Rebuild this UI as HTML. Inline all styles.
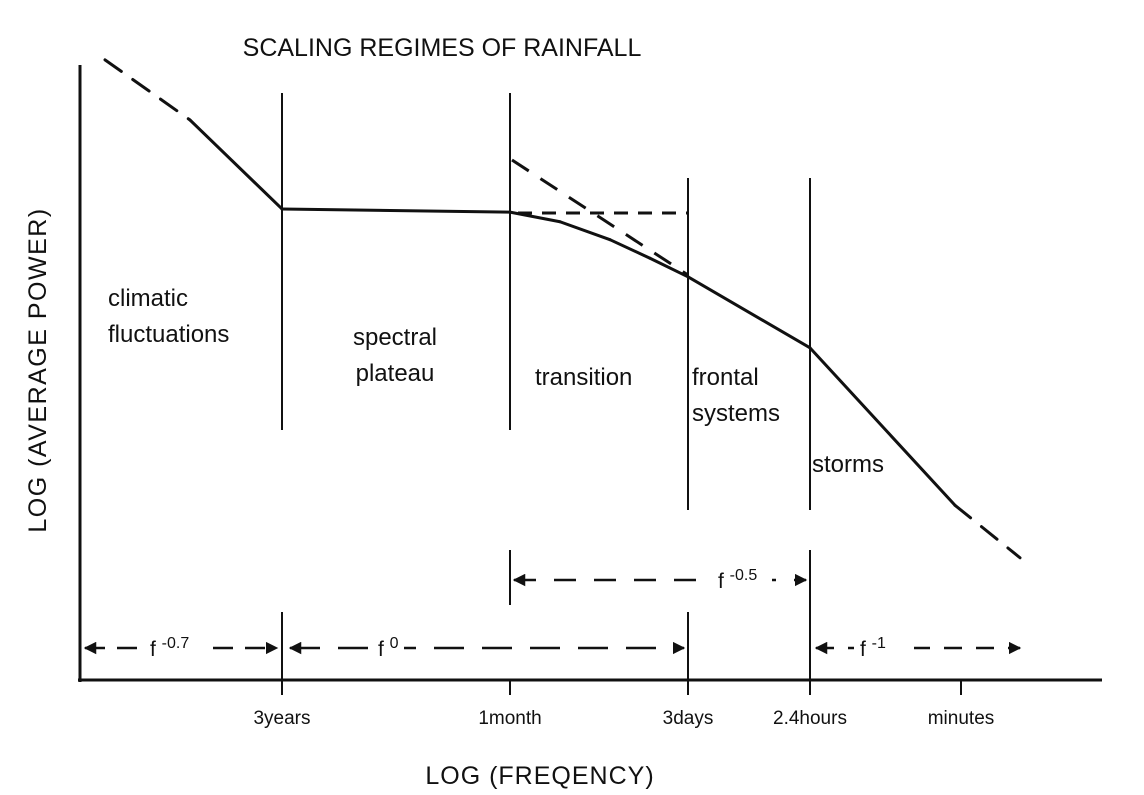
<!DOCTYPE html>
<html><head><meta charset="utf-8"><style>
html,body{margin:0;padding:0;background:#fff;}
svg{display:block;font-family:"Liberation Sans",Arial,sans-serif;}
text{fill:#111;}
</style></head><body>
<svg id="chart" width="1144" height="795" viewBox="0 0 1144 795" xmlns="http://www.w3.org/2000/svg">
<defs>
<marker id="ah" viewBox="0 0 10 10" refX="9" refY="5" markerWidth="5" markerHeight="5" orient="auto-start-reverse"><path d="M0,0 L10,5 L0,10 z" fill="#111"/></marker>
</defs>
<text x="442" y="56" font-size="25" text-anchor="middle">SCALING REGIMES OF RAINFALL</text>
<line x1="80" y1="65" x2="80" y2="682" stroke="#111" stroke-width="3"/>
<line x1="78" y1="680" x2="1102" y2="680" stroke="#111" stroke-width="3"/>
<text transform="translate(46,370) rotate(-90)" font-size="25" text-anchor="middle" letter-spacing="1.5">LOG (AVERAGE POWER)</text>
<text x="540" y="784" font-size="25" text-anchor="middle" letter-spacing="1">LOG (FREQENCY)</text>
<g id="dividers"></g>
<g id="ticks"></g>
<g id="curve"></g>
<g id="regions" font-size="24"></g>
<g id="slopes"></g>
</svg>
<script>
// Data: break frequencies (log-frequency units) and log power at curve points
const breakLabels = ["3years","1month","3days","2.4hours","minutes"];
const breakFreqs = [2.02, 4.30, 6.08, 7.30, 8.81];
const curveFreqs = [0.25, 1.10, 2.02, 4.30, 4.80, 5.30, 5.70, 6.08, 7.30, 8.75, 9.40];
const curvePower = [9.69, 8.75, 7.36, 7.31, 7.16, 6.88, 6.59, 6.30, 5.19, 2.73, 1.91];
const curveDashed = [true, false, false, false, false, false, false, false, false, true];
const regionNames = [["climatic","fluctuations"],["spectral","plateau"],["transition"],["frontal","systems"],["storms"]];
const slopeLabels = ["-0.7","0","-0.5","-1"];

const NS = "http://www.w3.org/2000/svg";
const xScale = f => 80 + f * 100;       // log freq -> px
const yScale = p => 680 - p * 64.0;     // log power -> px
function mk(tag, attrs, parent){const e=document.createElementNS(NS,tag);for(const k in attrs)e.setAttribute(k,attrs[k]);parent.appendChild(e);return e;}
const gDiv=document.getElementById('dividers'), gT=document.getElementById('ticks'), gC=document.getElementById('curve'), gR=document.getElementById('regions'), gS=document.getElementById('slopes');

// ticks & labels
breakFreqs.forEach((f,i)=>{
  const x=xScale(f);
  const t=mk('line',{x1:x,y1:680,x2:x,y2:695,stroke:'#111','stroke-width':2},gT);
  
  
  const l=mk('text',{x:x,y:724,'font-size':19,'text-anchor':'middle'},gT);
  l.textContent=breakLabels[i];
  
  
});

// region divider lines
const divSegs=[[0,93,430],[0,612,680],[1,93,430],[1,550,605],[2,178,510],[2,612,680],[3,178,510],[3,550,680]];
divSegs.forEach(s=>{
  const x=xScale(breakFreqs[s[0]]);
  const l=mk('line',{x1:x,y1:s[1],x2:x,y2:s[2],stroke:'#111','stroke-width':2},gDiv);
  
  
});

// spectrum curve
for(let i=0;i<curveFreqs.length-1;i++){
  const l=mk('line',{x1:xScale(curveFreqs[i]),y1:yScale(curvePower[i]),x2:xScale(curveFreqs[i+1]),y2:yScale(curvePower[i+1]),stroke:'#111','stroke-width':3,'stroke-linecap':'round'},gC);
  if(curveDashed[i]) l.setAttribute('stroke-dasharray','20 14');
  
  
}
// transition asymptotes
const a1=mk('line',{x1:xScale(4.32),y1:160,x2:xScale(6.08),y2:275,stroke:'#111','stroke-width':3,'stroke-dasharray':'20 14'},gC);


const a2=mk('line',{x1:xScale(4.30)+8,y1:213,x2:xScale(6.08),y2:213,stroke:'#111','stroke-width':3,'stroke-dasharray':'14 10'},gC);



// region labels
const regionPos=[[108,306,'start'],[395,345,'middle'],[535,385,'start'],[692,385,'start'],[812,472,'start']];
regionNames.forEach((lines,i)=>{
  const p=regionPos[i];
  const t=mk('text',{x:p[0],y:p[1],'text-anchor':p[2]},gR);
  
  
  lines.forEach((s,j)=>{const ts=mk('tspan',{x:p[0],dy:j?36:0},t);ts.textContent=s;});
});

// slope arrows
const arrowRows=[[83,279,648,150,'20 12'],[288,686,648,378,'30 18'],[512,808,580,718,'22 18'],[814,1022,648,860,'18 14']];
arrowRows.forEach((r,i)=>{
  const l=mk('line',{x1:r[0]+2,y1:r[2],x2:r[1]-2,y2:r[2],stroke:'#111','stroke-width':2.5,'stroke-dasharray':r[4],'marker-start':'url(#ah)','marker-end':'url(#ah)'},gS);
  
  
  const w=mk('rect',{x:r[3]-6,y:r[2]-22,width:i==1?32:60,height:30,fill:'#fff'},gS);
  
  
  const t=mk('text',{x:r[3],y:r[2]+8,'font-size':21},gS);
  
  
  const a=mk('tspan',{},t);a.textContent='f ';
  const b=mk('tspan',{dy:-8,'font-size':16},t);b.textContent=slopeLabels[i];
});
</script>
</body></html>
